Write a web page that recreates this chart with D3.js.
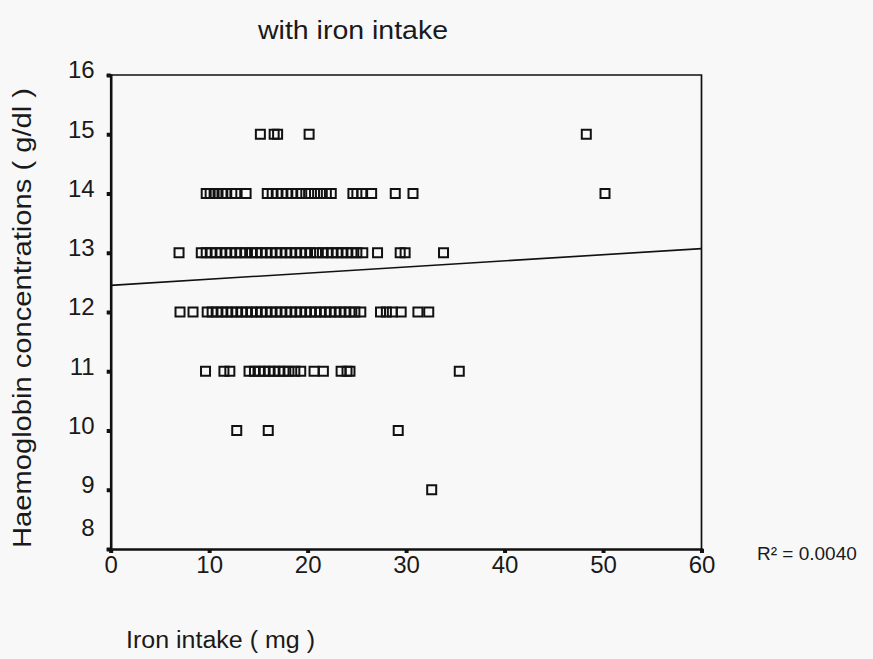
<!DOCTYPE html>
<html><head><meta charset="utf-8">
<script src="https://cdn.jsdelivr.net/npm/d3@7"></script>
<style>
html,body{margin:0;padding:0;background:#f8f8f8;}
text{font-family:"Liberation Sans",Arial,sans-serif;fill:#1a1a1a;}
</style></head>
<body><svg id="c" width="873" height="659"></svg>
<script>
// Data: iron intake (mg) per haemoglobin level (g/dl)
const hb15 = [15.2, 16.6, 16.95, 20.15, 48.3];
const hb14 = [9.7, 10.1, 10.5, 10.9, 11.3, 11.7, 12.3, 12.7, 13.75,
  15.9, 16.4, 16.9, 17.4, 17.9, 18.4, 18.9, 19.4, 20.1, 20.7, 21.3, 21.9, 22.4,
  24.6, 25.0, 25.5, 26.5, 28.9, 30.7, 50.2];
const hb13 = [6.94, 9.2, 9.7, 10.2, 10.7, 11.2, 11.7, 12.2, 12.7, 13.2, 13.7, 14.3, 14.8,
  15.3, 15.8, 16.3, 16.8, 17.3, 17.8, 18.3, 18.8, 19.3, 19.8, 20.3, 20.9, 21.5, 22.0,
  22.5, 23.0, 23.5, 24.0, 24.5, 25.0, 25.6, 27.1, 29.4, 29.9, 33.8];
const hb12 = [7.04, 8.36, 9.8, 10.3, 10.8, 11.3, 11.8, 12.3, 12.8, 13.3, 13.8, 14.3, 14.8,
  15.3, 15.8, 16.3, 16.8, 17.3, 17.8, 18.3, 18.8, 19.3, 19.8, 20.3, 20.8, 21.3, 21.8,
  22.3, 22.8, 23.3, 23.8, 24.3, 24.8, 25.4, 27.4, 28.0, 28.6, 29.5, 31.2, 32.3];
const hb11 = [9.63, 11.5, 12.1, 14.05, 14.6, 15.1, 15.6, 16.1, 16.6, 17.1, 17.6, 18.1,
  18.7, 19.3, 20.65, 21.6, 23.4, 24.0, 24.3, 35.4];
const hb10 = [12.8, 16.0, 29.2];
const hb9 = [32.6];
const hbLevels = [15, 14, 13, 12, 11, 10, 9];
const hbSeries = [hb15, hb14, hb13, hb12, hb11, hb10, hb9];
const fitLine = [[0, 12.45], [60, 13.07]];
const xTicks = [0, 10, 20, 30, 40, 50, 60];
const yTicks = [8, 9, 10, 11, 12, 13, 14, 15, 16];
const rSquared = "0.0040";

const svg = d3.select("#c");
const x = d3.scaleLinear().domain([0, 60]).range([110.7, 701.5]);
const y = d3.scaleLinear().domain([8, 16]).range([549, 75]);

// frame (top/right)
svg.append("path")
  .attr("d", `M${x(0)},${y(16)}H${x(60)}V${y(8)}`)
  .attr("fill", "none").attr("stroke", "#111").attr("stroke-width", 1.7);

// axes
const yAxis = svg.append("g").attr("transform", `translate(${x(0)},0)`)
  .call(d3.axisLeft(y).tickValues(yTicks).tickSize(4).tickPadding(12).tickFormat(d3.format("d")));
const xAxis = svg.append("g").attr("transform", `translate(0,${y(8)})`)
  .call(d3.axisBottom(x).tickValues(xTicks).tickSize(4).tickPadding(3).tickFormat(d3.format("d")));
[yAxis, xAxis].forEach(g => {
  g.select(".domain").attr("stroke", "#111").attr("stroke-width", 2.6);
  g.selectAll(".tick line").attr("stroke", "#111").attr("stroke-width", 4);
  g.selectAll(".tick text").attr("font-size", 24).attr("font-family", "Liberation Sans, Arial, sans-serif").attr("fill", "#1a1a1a");
});
yAxis.selectAll(".tick text").attr("dy", "0.12em");
yAxis.selectAll(".tick text").filter(d => d === 8).attr("dy", "-0.55em");
xAxis.selectAll(".tick text").attr("dy", "0.72em");

// regression line
svg.append("line")
  .attr("x1", x(fitLine[0][0])).attr("y1", y(fitLine[0][1]))
  .attr("x2", x(fitLine[1][0])).attr("y2", y(fitLine[1][1]))
  .attr("stroke", "#111").attr("stroke-width", 1.6);

// points
const pts = [];
hbSeries.forEach((arr, i) => arr.forEach(v => pts.push({ x: v, y: hbLevels[i] })));
const s = 9;
svg.append("g").selectAll("rect").data(pts).join("rect")
  .attr("x", d => x(d.x) - s / 2).attr("y", d => y(d.y) - s / 2)
  .attr("width", s).attr("height", s)
  .attr("fill", "none").attr("stroke", "#111").attr("stroke-width", 2);

// texts
svg.append("text").attr("x", 258).attr("y", 39)
  .attr("font-size", 25).attr("textLength", 190).attr("lengthAdjust", "spacingAndGlyphs")
  .text("with iron intake");
svg.append("text").attr("transform", "translate(31,548) rotate(-90)")
  .attr("font-size", 26).attr("textLength", 460).attr("lengthAdjust", "spacingAndGlyphs")
  .text("Haemoglobin concentrations ( g/dl )");
svg.append("text").attr("x", 126).attr("y", 648)
  .attr("font-size", 23).attr("textLength", 189).attr("lengthAdjust", "spacingAndGlyphs")
  .text("Iron intake ( mg )");
svg.append("text").attr("x", 757).attr("y", 560).attr("font-size", 19).text("R² = " + rSquared);
</script></body></html>
